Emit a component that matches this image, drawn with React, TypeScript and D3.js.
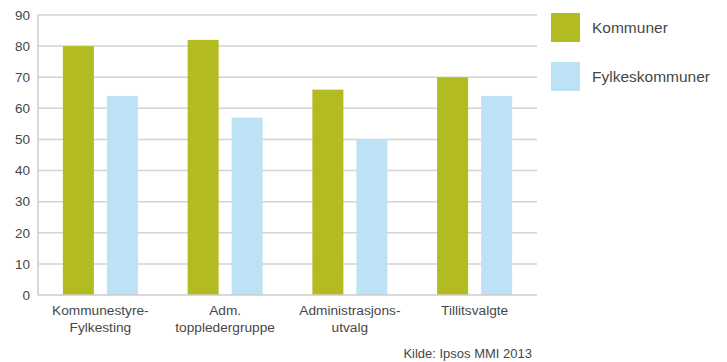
import React from "react";
import * as d3 from "d3";

const categories: string[][] = [
  ["Kommunestyre-", "Fylkesting"],
  ["Adm.", "toppledergruppe"],
  ["Administrasjons-", "utvalg"],
  ["Tillitsvalgte"],
];
const kommuner = [80, 82, 66, 70];
const fylkeskommuner = [64, 57, 50, 64];
const seriesNames = ["Kommuner", "Fylkeskommuner"];
const yTicks = [0, 10, 20, 30, 40, 50, 60, 70, 80, 90];
const source = "Kilde: Ipsos MMI 2013";

const W = 727;
const H = 362;
const colors = ["#b2bb1f", "#bde2f6"];
const font = "'Liberation Sans', Arial, sans-serif";

export default function App() {
  const left = 38, right = 537, top = 15, bottom = 295;
  const x = d3.scaleBand<number>().domain(d3.range(categories.length)).range([left, right]).padding(0);
  const y = d3.scaleLinear().domain([0, 90]).range([bottom, top]);
  const bw = x.bandwidth();
  const barW = bw * 31 / 124.75;
  const gap = bw * 13 / 124.75;
  const outer = (bw - 2 * barW - gap) / 2;
  const series = [kommuner, fylkeskommuner];

  return (
    <svg width={W} height={H} style={{ position: "absolute", left: 0, top: 0, background: "#fff" }} fontFamily={font}>
      <defs>
        <clipPath id="legclip">
          <rect x={540} y={0} width={171} height={120} />
        </clipPath>
      </defs>
      {yTicks.map((t) => (
        <g key={t}>
          {t > 0 && (
            <line x1={left} x2={right} y1={y(t)} y2={y(t)} stroke="#d3d3d3" strokeWidth={1.5} />
          )}
          <text x={30} y={y(t)} dy="0.35em" textAnchor="end" fontSize={13.5} fill="#474747">
            {t}
          </text>
        </g>
      ))}
      {series.map((s, si) =>
        s.map((v, i) => (
          <rect
            key={si + "-" + i}
            x={(x(i) as number) + outer + si * (barW + gap)}
            y={y(v)}
            width={barW}
            height={y(0) - y(v)}
            fill={colors[si]}
          />
        ))
      )}
      <line x1={left} x2={left} y1={top} y2={bottom} stroke="#cccccc" strokeWidth={1.5} />
      <line x1={left} x2={right} y1={bottom} y2={bottom} stroke="#cccccc" strokeWidth={1.5} />
      {categories.map((lines, i) => (
        <text key={i} textAnchor="middle" fontSize={13.7} fill="#474747">
          {lines.map((l, j) => (
            <tspan key={j} x={(x(i) as number) + bw / 2} y={315 + j * 17}>
              {l}
            </tspan>
          ))}
        </text>
      ))}
      <g clipPath="url(#legclip)">
        {seriesNames.map((n, i) => (
          <g key={n}>
            <rect x={551} y={13 + i * 49} width={29} height={29} fill={colors[i]} />
            <text x={592} y={27.5 + i * 49} dy="0.35em" fontSize={15.5} fill="#474747">
              {n}
            </text>
          </g>
        ))}
      </g>
      <text x={532} y={358} textAnchor="end" fontSize={13} fill="#474747">
        {source}
      </text>
    </svg>
  );
}
